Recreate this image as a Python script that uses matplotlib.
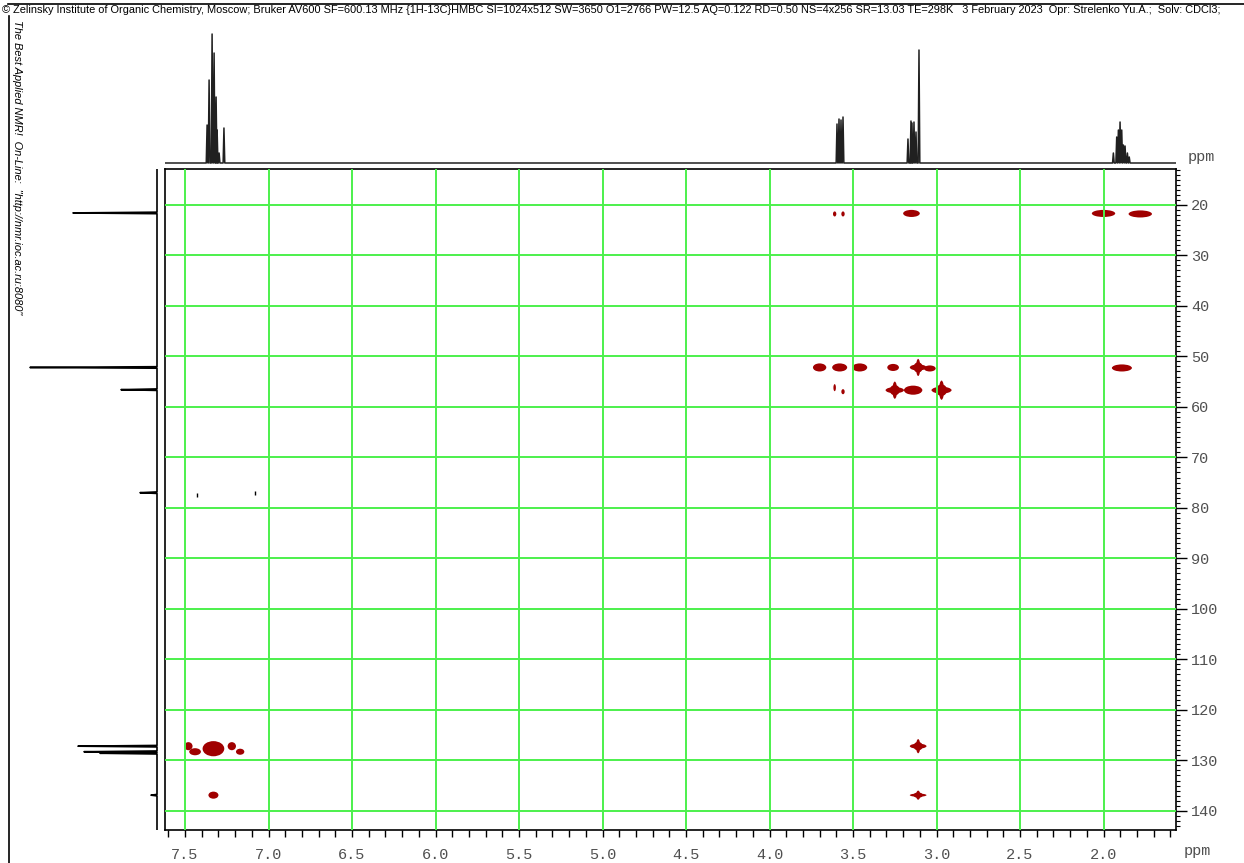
import matplotlib
matplotlib.use("Agg")
import matplotlib.pyplot as plt
from matplotlib.patches import Ellipse
from matplotlib.ticker import MultipleLocator, FormatStrFormatter

# 1H projection: line positions (ppm) and heights (arb.)
h_lines = [7.368, 7.356, 7.338, 7.326, 7.314, 7.308, 7.296, 7.267,
           3.596, 3.584, 3.572, 3.560,
           3.171, 3.153, 3.147, 3.135, 3.123, 3.105,
           1.941, 1.921, 1.911, 1.901, 1.891, 1.881, 1.871, 1.857, 1.846]
h_heights = [38, 83, 129, 110, 66, 33, 10, 35,
             39, 44, 43, 46,
             24, 42, 40, 41, 31, 113,
             10, 26, 33, 41, 33, 18, 17, 10, 6]

# 13C projection: line positions (ppm) and heights (arb.)
c_lines = [21.6, 52.2, 56.6, 77.0, 127.2, 128.3, 128.6, 136.9]
c_heights = [84, 127, 36, 17, 79, 73, 57, 6]

# HMBC cross peaks: 1H shift, 13C shift
blob_h = [3.61, 3.56, 3.15, 2.00, 1.78,
          3.70, 3.58, 3.46, 3.26, 3.04, 1.89,
          3.61, 3.56, 3.14,
          7.48, 7.44, 7.33, 7.22, 7.17, 7.33]
blob_c = [21.8, 21.8, 21.7, 21.7, 21.8,
          52.2, 52.2, 52.2, 52.2, 52.4, 52.3,
          56.2, 57.0, 56.7,
          127.2, 128.3, 127.7, 127.2, 128.3, 136.9]
blob_dh = [0.02, 0.02, 0.10, 0.14, 0.14,
           0.08, 0.09, 0.09, 0.07, 0.07, 0.12,
           0.015, 0.02, 0.11,
           0.05, 0.07, 0.13, 0.05, 0.05, 0.06]
blob_dc = [1.0, 1.0, 1.4, 1.4, 1.4,
           1.6, 1.6, 1.6, 1.4, 1.2, 1.4,
           1.4, 1.0, 1.8,
           1.6, 1.4, 3.0, 1.6, 1.2, 1.4]

star_h = [3.11, 3.25, 2.97, 3.11, 3.11]
star_c = [52.2, 56.7, 56.7, 127.2, 136.9]
star_dh = [0.10, 0.11, 0.12, 0.10, 0.10]
star_dc = [3.4, 3.4, 3.8, 2.8, 1.8]

# small negative contours near the CDCl3 line
neg_h = [7.43, 7.08]
neg_c = [77.5, 77.0]

x_lo, x_hi = 7.62, 1.566
y_lo, y_hi = 143.8, 12.9

header = ("\u00a9 Zelinsky Institute of Organic Chemistry, Moscow; Bruker AV600 SF=600.13 MHz "
          "{1H-13C}HMBC SI=1024x512 SW=3650 O1=2766 PW=12.5 AQ=0.122 RD=0.50 NS=4x256 "
          "SR=13.03 TE=298K   3 February 2023  Opr: Strelenko Yu.A.;  Solv: CDCl3;")
side = "The Best Applied NMR!  On-Line:  \"http://nmr.ioc.ac.ru:8080\""

W, H = 1244, 863
red = "#a00000"
green = "#4cf04c"
grey = "#505050"
mono = "Liberation Mono"


def stick_trace(pos, hts, w):
    # baseline with a narrow triangle for every line
    pairs = sorted(zip(pos, hts), reverse=True)
    xs, ys = [], []
    for p, h in pairs:
        xs += [p + w, p, p - w]
        ys += [0, h, 0]
    return xs, ys


fig = plt.figure(figsize=(W / 100, H / 100), dpi=100)

# main 2D panel
ax = fig.add_axes([165 / W, 1 - 830 / H, 1011 / W, 661 / H])
ax.set_xlim(x_lo, x_hi)
ax.set_ylim(y_lo, y_hi)

for x, y, dx, dy in zip(blob_h, blob_c, blob_dh, blob_dc):
    ax.add_patch(Ellipse((x, y), dx, dy, color=red, lw=0, zorder=1))
for x, y, dx, dy in zip(star_h, star_c, star_dh, star_dc):
    ax.add_patch(Ellipse((x, y), dx, dy * 0.35, color=red, lw=0, zorder=1))
    ax.add_patch(Ellipse((x, y), dx * 0.25, dy, color=red, lw=0, zorder=1))
    ax.add_patch(Ellipse((x, y), dx * 0.55, dy * 0.6, color=red, lw=0, zorder=1))
ax.plot(neg_h, neg_c, ls="none", marker="|", ms=3, color="black", mew=1)

ax.xaxis.set_major_locator(MultipleLocator(0.5))
ax.xaxis.set_minor_locator(MultipleLocator(0.1))
ax.xaxis.set_major_formatter(FormatStrFormatter("%.1f"))
ax.yaxis.set_major_locator(MultipleLocator(10))
ax.yaxis.set_minor_locator(MultipleLocator(1))
ax.yaxis.tick_right()
ax.tick_params(axis="x", which="both", direction="out", length=5, width=1, pad=8,
               labelsize=11, labelcolor=grey)
ax.tick_params(axis="y", which="major", direction="out", length=8, width=1, pad=3,
               labelsize=11, labelcolor=grey)
ax.tick_params(axis="y", which="minor", direction="out", length=3, width=0.8)
for lab in ax.get_xticklabels() + ax.get_yticklabels():
    lab.set_family(mono)
ax.set_axisbelow(False)
ax.grid(True, which="major", color=green, lw=1.4)
for s in ax.spines.values():
    s.set_linewidth(1.2)

# 1H projection on top
top = fig.add_axes([165 / W, 1 - 166 / H, 1011 / W, 136 / H])
xs, ys = stick_trace(h_lines, h_heights, 0.005)
top.plot([x_lo] + xs + [x_hi], [0] + ys + [0], color="#202020", lw=1.1)
top.set_xlim(x_lo, x_hi)
top.set_ylim(-3, 133)
top.axis("off")

# 13C projection on the left
left = fig.add_axes([20 / W, 1 - 830 / H, 140 / W, 661 / H])
cs, vs = stick_trace(c_lines, c_heights, 0.15)
left.plot([0] + vs + [0], [y_lo] + cs + [y_hi], color="black", lw=1.2)
left.set_xlim(137, -3)
left.set_ylim(y_lo, y_hi)
left.axis("off")

# page frame and captions
fig.add_artist(plt.Line2D([8 / W, 1], [1 - 4 / H, 1 - 4 / H], color="black", lw=1.2))
fig.add_artist(plt.Line2D([9 / W, 9 / W], [0, 1 - 16 / H], color="black", lw=1.2))
fig.text(2 / W, 1 - 13 / H, header, fontsize=7.9, family="Liberation Sans", va="baseline")
fig.text(12 / W, 1 - 20 / H, side, fontsize=7.9, family="Liberation Sans",
         style="italic", rotation=-90, va="top", ha="left")
fig.text(1188 / W, 1 - 157 / H, "ppm", fontsize=11, family=mono, color=grey, va="center")
fig.text(1184 / W, 1 - 851 / H, "ppm", fontsize=11, family=mono, color=grey, va="center")

fig.savefig("out.png", dpi=100)
